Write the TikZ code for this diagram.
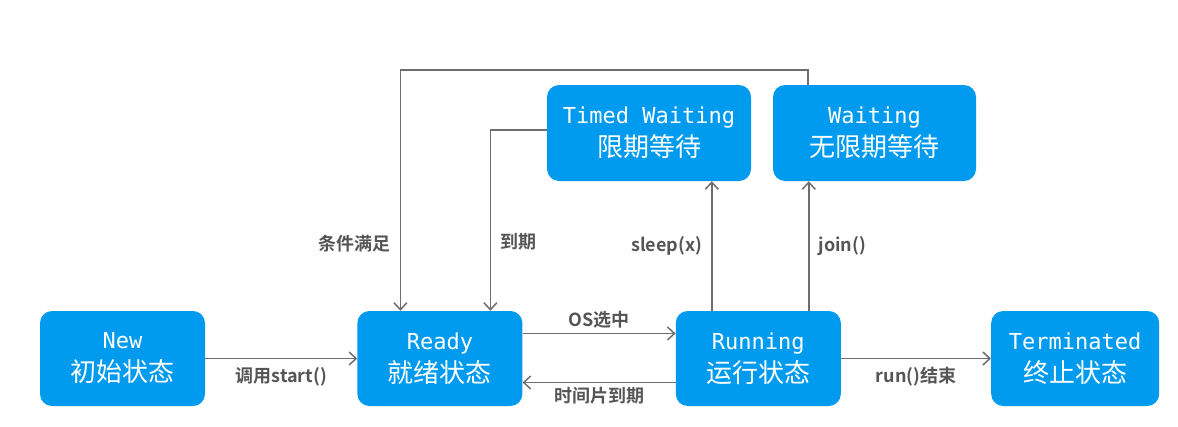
\documentclass[tikz,border=0pt]{standalone}
\usepackage{fontspec}
\setmainfont{Noto Sans CJK SC}[BoldFont={Noto Sans CJK SC Bold}]
\newfontfamily\boxlatin{DejaVu Sans Mono}
\usetikzlibrary{positioning,arrows.meta}
\definecolor{stateblue}{RGB}{0,155,238}
\definecolor{linegray}{RGB}{110,110,110}
\definecolor{labelgray}{RGB}{85,85,85}

\begin{document}
\begin{tikzpicture}[x=1pt,y=-1pt,
  state/.style={
   fill=stateblue,
   rounded corners=12pt,
   minimum width=165pt,
   minimum height=95pt,
   inner sep=0pt,
   text=white,
   align=center,
   font=\fontsize{26}{33}\selectfont
  },
  trans/.style={
    draw=linegray,
    line width=1.5pt,
    -{Straight Barb[length=7pt,width=13pt]}
  },
  lbl/.style={
    text=labelgray,
    font=\fontsize{18}{20}\selectfont\bfseries,
    inner sep=4pt
  },
  node distance=152pt]
  \useasboundingbox[fill=white] (0,0) rectangle (1178,426);

  \node[state] at (122.5,358.5) 
	  (new) {{\boxlatin\fontsize{22}{33}\selectfont New}\\初始状态};
  \node[state,right=of new] 
	  (ready) {{\boxlatin\fontsize{22}{33}\selectfont Ready}\\就绪状态};
  \node[state,right=153pt of ready] 
	  (running) {{\boxlatin\fontsize{22}{33}\selectfont Running}\\运行状态};
  \node[state,right=150pt of running,minimum width=168pt] 
	  (term) {{\boxlatin\fontsize{22}{33}\selectfont Terminated}\\终止状态};
  \node[state,minimum width=204pt,minimum height=96pt] at (649,133) 
	  (timed) {{\boxlatin\fontsize{22}{33}\selectfont Timed Waiting}\\限期等待};
  \node[state,minimum width=203pt,minimum height=96pt] at (874.5,133) 
	  (wait) {{\boxlatin\fontsize{22}{33}\selectfont Waiting}\\无限期等待};

  \draw[trans] (new) -- node[lbl,below=4pt] (start) {调用start()} (ready);
  \draw[trans] ([yshift=25pt]ready.east) -- node[lbl,above] (os) {OS选中} ([yshift=25pt]running.west);
  \draw[trans] ([yshift=-24pt]running.west) -- node[lbl,below] (slice) {时间片到期} ([yshift=-24pt]ready.east);
  \draw[trans] (running) -- node[lbl,below=4pt] (runend) {run()结束} (term);

  \draw[trans] ([xshift=-46.5pt]running.north) -- node[lbl,left=5pt] (sleep) {sleep(x)} ([xshift=-46.5pt]running.north |- timed.south);
  \draw[trans] ([xshift=50.5pt]running.north) -- node[lbl,right=5pt] (join) {join()} ([xshift=50.5pt]running.north |- wait.south);

  \draw[trans] ([yshift=3pt]timed.west) -| node[lbl,right=5pt,pos=0.81] (expire) {到期} ([xshift=50.5pt]ready.north);
  \draw[trans] ([xshift=-66.5pt]wait.north) -- ++(0,-15) -| node[lbl,left=5pt,pos=0.86] (cond) {条件满足} ([xshift=-39.5pt]ready.north);
\end{tikzpicture}
\end{document}
